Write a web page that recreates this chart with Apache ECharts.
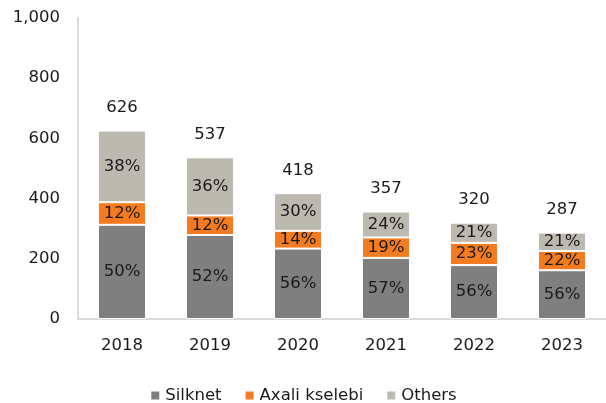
<!DOCTYPE html>
<html>
<head>
<meta charset="utf-8">
<script src="https://cdn.jsdelivr.net/npm/echarts@6/dist/echarts.min.js"></script>
<style>html,body{margin:0;padding:0;background:#fff}#c{width:606px;height:403px}</style>
</head>
<body>
<div id="c"></div>
<script>
const categories = ['2018', '2019', '2020', '2021', '2022', '2023'];
const silknet = [313, 279, 234, 203, 179, 162];
const axali = [75, 65, 59, 68, 74, 64];
const others = [238, 193, 125, 86, 67, 61];
const totals = [626, 537, 418, 357, 320, 287];
const silknetPct = ['50%', '52%', '56%', '57%', '56%', '56%'];
const axaliPct = ['12%', '12%', '14%', '19%', '23%', '22%'];
const othersPct = ['38%', '36%', '30%', '24%', '21%', '21%'];
const yTicks = [0, 200, 400, 600, 800, 1000];

const FONT = 'DejaVu Sans';
const FS = 16.5;
const chart = echarts.init(document.getElementById('c'), null, {renderer: 'canvas'});
function seg(name, data, pcts, color) {
  return {
    name: name, type: 'bar', stack: 'total', data: data, barWidth: 48,
    itemStyle: {color: color, borderColor: '#ffffff', borderWidth: 1},
    label: {show: true, position: 'inside', fontFamily: FONT, fontSize: FS, color: '#1a1a1a',
      formatter: p => pcts[p.dataIndex]}
  };
}
const series = [
  seg('Silknet', silknet, silknetPct, '#7f7f7f'),
  seg('Axali kselebi', axali, axaliPct, '#f47b20'),
  seg('Others', others, othersPct, '#bcb9b1'),
  {
    name: 'total', type: 'bar', stack: 'total', data: totals.map(() => 0), barWidth: 48,
    itemStyle: {color: 'transparent'}, silent: true,
    label: {show: true, position: 'top', distance: 14, fontFamily: FONT, fontSize: FS, color: '#1a1a1a',
      formatter: p => String(totals[p.dataIndex])}
  }
];
chart.setOption({
  animation: false,
  grid: {left: 78, right: -6, top: 18, bottom: 84},
  legend: {
    data: ['Silknet', 'Axali kselebi', 'Others'], top: 382, left: 'center',
    itemWidth: 10, itemHeight: 10, itemGap: 22, icon: 'rect',
    textStyle: {fontFamily: FONT, fontSize: FS, color: '#1a1a1a'}
  },
  xAxis: {
    type: 'category', data: categories,
    axisLine: {lineStyle: {color: '#d9d9d9', width: 2}},
    axisTick: {show: false},
    axisLabel: {fontFamily: FONT, fontSize: FS, color: '#1a1a1a', margin: 18}
  },
  yAxis: {
    type: 'value', min: 0, max: 1000, interval: 200,
    axisLine: {show: true, lineStyle: {color: '#d9d9d9', width: 2}},
    axisTick: {show: false}, splitLine: {show: false},
    axisLabel: {fontFamily: FONT, fontSize: FS, color: '#1a1a1a', margin: 18,
      formatter: v => yTicks.indexOf(v) >= 0 ? v.toLocaleString('en-US') : ''}
  },
  series: series
});
</script>
</body>
</html>
